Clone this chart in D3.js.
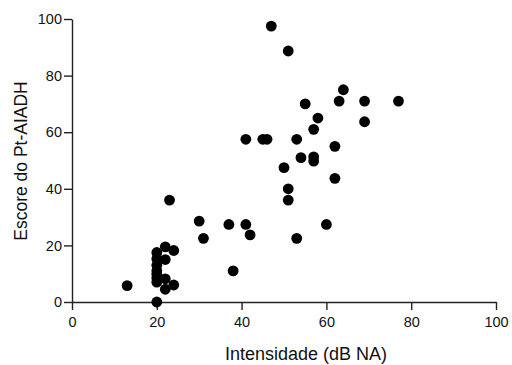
<!DOCTYPE html>
<html>
<head>
<meta charset="utf-8">
<script src="https://cdn.jsdelivr.net/npm/d3@7"></script>
<style>
  body { margin: 0; background: #fff; }
  svg { font-family: "Liberation Sans", Arial, sans-serif; }
</style>
</head>
<body>
<svg width="512" height="365"></svg>
<script>
// intensidade (dB NA) vs escore Pt-AIADH
var intensidade = [47, 51, 64, 63, 69, 77, 55, 58, 69, 57, 53, 62, 54, 57, 57, 50, 62, 51, 51,
                   41, 45, 46, 30, 31, 37, 41, 42, 38, 53, 60,
                   23, 13, 20, 22, 24, 20, 20, 22, 20, 20, 20, 20, 22, 20, 24, 22];
var escore = [97.5, 88.7, 75, 71, 71, 71, 70, 65, 63.7, 61, 57.5, 55, 51, 51.3, 49.8, 47.5, 43.7, 40, 36,
              57.5, 57.5, 57.5, 28.6, 22.5, 27.4, 27.4, 23.7, 11, 22.5, 27.4,
              36, 5.8, 0, 19.5, 18.2, 17.5, 15.3, 15, 13, 11, 9.8, 8.5, 8.2, 7, 6, 4.5];
var xTicks = [0, 20, 40, 60, 80, 100];
var yTicks = [0, 20, 40, 60, 80, 100];

var svg = d3.select("svg");

var x = d3.scaleLinear().domain([0, 100]).range([72, 496]);
var y = d3.scaleLinear().domain([0, 100]).range([302, 19]);

var xAxis = svg.append("g")
    .attr("transform", "translate(0,302)")
    .call(d3.axisBottom(x).tickValues(xTicks).tickSize(8).tickSizeOuter(0).tickPadding(7));

var yAxis = svg.append("g")
    .attr("transform", "translate(72,0)")
    .call(d3.axisLeft(y).tickValues(yTicks).tickSize(8).tickSizeOuter(0).tickPadding(2));

svg.selectAll(".domain, .tick line")
    .attr("stroke", "#222")
    .attr("stroke-width", 1.4);
svg.selectAll(".tick text")
    .attr("font-size", 14.5)
    .attr("font-family", "Liberation Sans, Arial, sans-serif")
    .attr("fill", "#111");

// titles
svg.append("text")
    .attr("x", 306)
    .attr("y", 360)
    .attr("text-anchor", "middle")
    .attr("font-size", 18)
    .attr("fill", "#111")
    .text("Intensidade (dB NA)");

svg.append("text")
    .attr("transform", "translate(27,161) rotate(-90)")
    .attr("text-anchor", "middle")
    .attr("font-size", 17.5)
    .attr("fill", "#111")
    .text("Escore do Pt-AIADH");

// dots
svg.append("g")
  .selectAll("circle")
  .data(intensidade.map(function(d, i) { return [d, escore[i]]; }))
  .enter().append("circle")
    .attr("cx", function(d) { return x(d[0]); })
    .attr("cy", function(d) { return y(d[1]); })
    .attr("r", 5.4)
    .attr("fill", "#000");
</script>
</body>
</html>
